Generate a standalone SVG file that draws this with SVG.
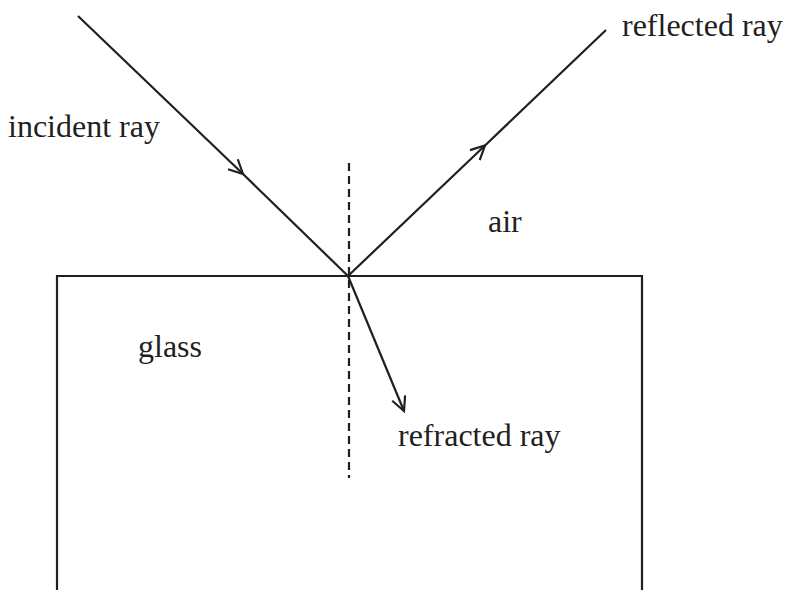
<svg xmlns="http://www.w3.org/2000/svg" width="788" height="590" viewBox="0 0 788 590">
<style>
.ln{fill:none;stroke:#231f20;stroke-width:2.2;stroke-linecap:butt;stroke-linejoin:miter}
.dash{fill:none;stroke:#231f20;stroke-width:2.2;stroke-dasharray:8 5}
.lbl{font-family:"Liberation Serif","Times New Roman",serif;font-size:32px;fill:#231f20}
</style>
<defs>
<marker id="arr" markerUnits="userSpaceOnUse" markerWidth="30" markerHeight="30" refX="0" refY="0" viewBox="-20 -15 30 30" orient="auto" overflow="visible">
<path d="M -14,-7 L 0,0 L -14,7" fill="none" stroke="#231f20" stroke-width="2.2"/>
</marker>
</defs>
<g id="glass-block">
<path class="ln" d="M 57,590 L 57,276 L 642,276 L 642,590"/>
</g>
<g id="normal">
<line class="dash" x1="349" y1="163" x2="349" y2="478"/>
</g>
<g id="connectors">
<polyline id="incident" class="ln" points="78,16 243,174 348,276" marker-mid="url(#arr)"/>
<polyline id="reflected" class="ln" points="348,276 485,145.5 606,30" marker-mid="url(#arr)"/>
<line id="refracted" class="ln" x1="348" y1="276" x2="404" y2="411" marker-end="url(#arr)"/>
</g>
<g id="label-incident"><text class="lbl" x="8" y="137">incident ray</text></g>
<g id="label-reflected"><text class="lbl" x="622" y="36">reflected ray</text></g>
<g id="label-air"><text class="lbl" x="488" y="232">air</text></g>
<g id="label-glass"><text class="lbl" x="138" y="357">glass</text></g>
<g id="label-refracted"><text class="lbl" x="398" y="446">refracted ray</text></g>
</svg>
